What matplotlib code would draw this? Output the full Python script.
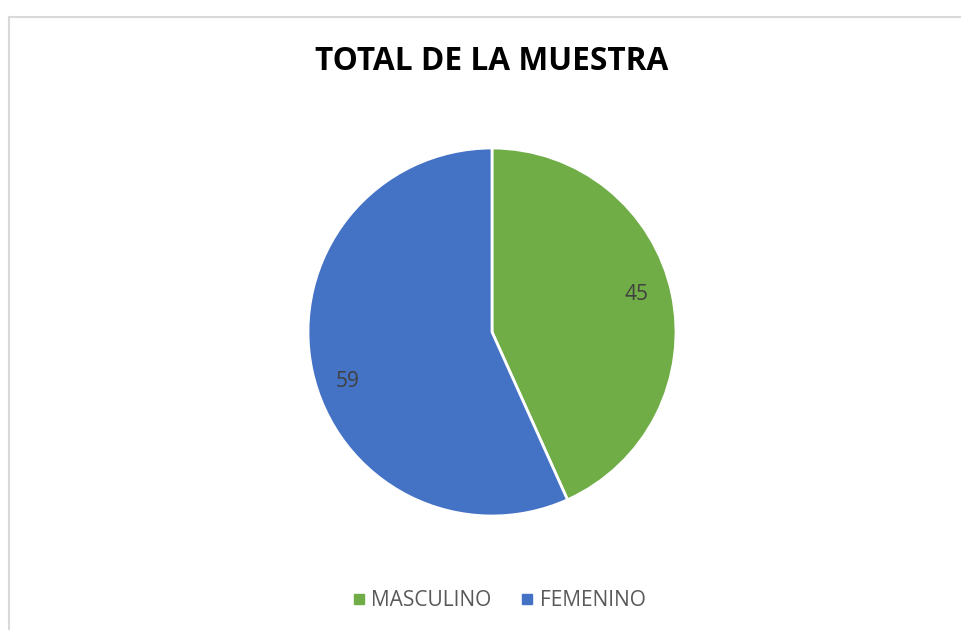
import numpy as np
import matplotlib.pyplot as plt
from matplotlib.lines import Line2D

categories = ['MASCULINO', 'FEMENINO']
values = [45, 59]
colors = ['#70ad47', '#4472c4']

plt.rcParams['font.family'] = ['Open Sans', 'DejaVu Sans']

W, H = 962, 630
fig = plt.figure(figsize=(W / 100, H / 100), dpi=100)

# chart border (only top and left edges are inside the image)
fig.add_artist(Line2D([9 / W, 9 / W], [0, 1 - 17 / H], transform=fig.transFigure,
                      color='#d9d9d9', lw=1.5))
fig.add_artist(Line2D([9 / W, 1], [1 - 17 / H, 1 - 17 / H], transform=fig.transFigure,
                      color='#d9d9d9', lw=1.5))

cx, cy, r = 492, 332, 184
ax = fig.add_axes([(cx - r) / W, (H - cy - r) / H, 2 * r / W, 2 * r / H])
wedges, texts = ax.pie(values, colors=colors, labels=[str(v) for v in values],
                       startangle=90, counterclock=False, labeldistance=0.82,
                       wedgeprops=dict(edgecolor='white', linewidth=2),
                       textprops=dict(color='#404040', fontsize=15))
# Excel-like label placement: slightly rotated from the wedge middle
for w, t in zip(wedges, texts):
    mid = np.deg2rad((w.theta1 + w.theta2) / 2 + 4.7)
    t.set_position((0.82 * np.cos(mid), 0.82 * np.sin(mid) - 0.02))
    t.set_horizontalalignment('center')
    t.set_verticalalignment('center_baseline')
ax.set_xlim(-1, 1)
ax.set_ylim(-1, 1)
ax.set_aspect('equal')

fig.text(cx / W, 1 - 62 / H, 'TOTAL DE LA MUESTRA', ha='center', va='center',
         fontsize=22.8, fontweight='bold', color='black')

handles = [Line2D([], [], marker='s', linestyle='none', markersize=6.5,
                  markerfacecolor=c, markeredgecolor=c) for c in colors]
fig.legend(handles, categories, loc='center', bbox_to_anchor=(498 / W, 1 - 601 / H),
           ncol=2, frameon=False, fontsize=15, labelcolor='#595959',
           handletextpad=0.2, columnspacing=1.3, handlelength=0.8)

fig.savefig('out.png', dpi=100, facecolor='white')
